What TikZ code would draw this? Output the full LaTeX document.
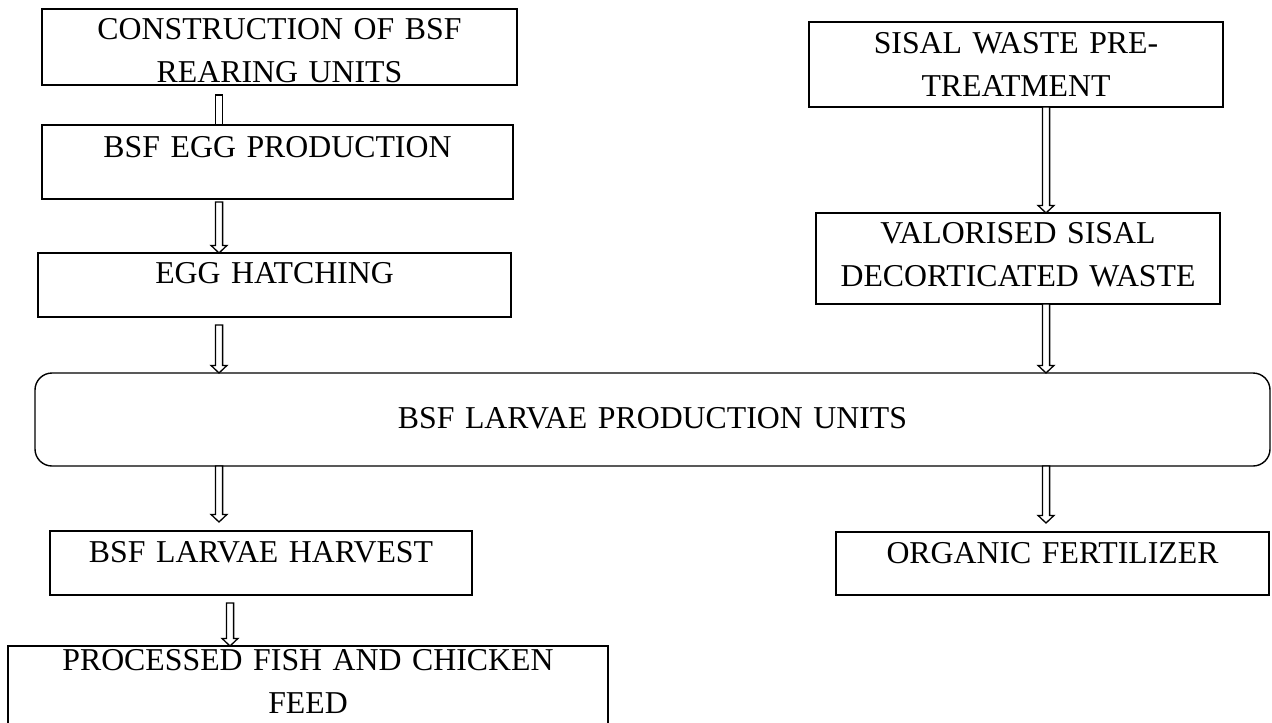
\documentclass[tikz,border=0pt]{standalone}
\usepackage{fontspec}
\setmainfont{Liberation Serif}
\usetikzlibrary{calc}

\tikzset{
    stepbox/.style={draw, line width=0.7pt, inner sep=0pt, outer sep=0pt,
        align=center, anchor=north west,
        font=\fontsize{15.9pt}{21.5pt}\selectfont},
    hollowarrow/.style={draw, fill=white, line width=0.65pt, to path={
        let \p1=(\tikztostart), \p2=(\tikztotarget) in
        (\x1-1.8pt,\y1) -- (\x1-1.8pt,\y2+3.8pt) -- (\x1-4pt,\y2+3.8pt)
        -- (\x1,\y2) -- (\x1+4pt,\y2+3.8pt) -- (\x1+1.8pt,\y2+3.8pt)
        -- (\x1+1.8pt,\y1) -- cycle}},
    hollowshaft/.style={draw, fill=white, line width=0.65pt, to path={
        let \p1=(\tikztostart), \p2=(\tikztotarget) in
        (\x1-1.8pt,\y1) rectangle (\x1+1.8pt,\y2)}}
}

\begin{document}
\begin{tikzpicture}[x=0.5pt, y=-0.5pt]
        \useasboundingbox (0,0) rectangle (1272,722);
        % left column
        \node[stepbox, text width=237.5pt, text height=15.25pt, text depth=22.75pt]
            (construct) at (42,9) {CONSTRUCTION OF BSF\\REARING UNITS};
        \node[stepbox, text width=235.5pt, text height=16.25pt, text depth=20.75pt]
            (eggprod) at (42,125) {BSF EGG PRODUCTION};
        \node[stepbox, text width=236.5pt, text height=15.25pt, text depth=16.75pt]
            (hatch) at (38,253) {EGG HATCHING};
        % right column
        \node[stepbox, text width=207pt, text height=15.75pt, text depth=26.75pt]
            (pretreat) at (809,22) {SISAL WASTE PRE-\\TREATMENT};
        \node[stepbox, text width=202pt, text height=15.25pt, text depth=30.25pt]
            (valorised) at (816,213) {VALORISED SISAL\\DECORTICATED WASTE};
        % middle
        \node[stepbox, rounded corners=8.5pt, text width=617.5pt, text height=27.75pt, text depth=18.75pt]
            (larvae) at (35,373) {BSF LARVAE PRODUCTION UNITS};
        % outputs
        \node[stepbox, text width=211pt, text height=15.75pt, text depth=16.25pt]
            (harvest) at (50,531) {BSF LARVAE HARVEST};
        \node[stepbox, text width=216.5pt, text height=15.75pt, text depth=15.75pt]
            (fertilizer) at (836,532) {ORGANIC FERTILIZER};
        \node[stepbox, text width=300pt, text height=12.25pt, text depth=32.25pt]
            (feed) at (8,646) {PROCESSED FISH AND CHICKEN\\FEED};

        \coordinate (lcol) at (219,0);
        \coordinate (rcol) at (1046,0);
        \coordinate (fcol) at (230,0);

        \draw[hollowshaft] ($(construct.south -| lcol)+(0,10)$) to (eggprod.north -| lcol);
        \draw[hollowarrow] ($(eggprod.south -| lcol)+(0,3)$) to (hatch.north -| lcol);
        \draw[hollowarrow] ($(hatch.south -| lcol)+(0,8)$) to (larvae.north -| lcol);
        \draw[hollowarrow] (pretreat.south -| rcol) to (valorised.north -| rcol);
        \draw[hollowarrow] (valorised.south -| rcol) to (larvae.north -| rcol);
        \draw[hollowarrow] (larvae.south -| lcol) to ($(harvest.north -| lcol)+(0,-9)$);
        \draw[hollowarrow] (larvae.south -| rcol) to ($(fertilizer.north -| rcol)+(0,-9)$);
        \draw[hollowarrow] ($(harvest.south -| fcol)+(0,8)$) to (feed.north -| fcol);
    \end{tikzpicture}
\end{document}
